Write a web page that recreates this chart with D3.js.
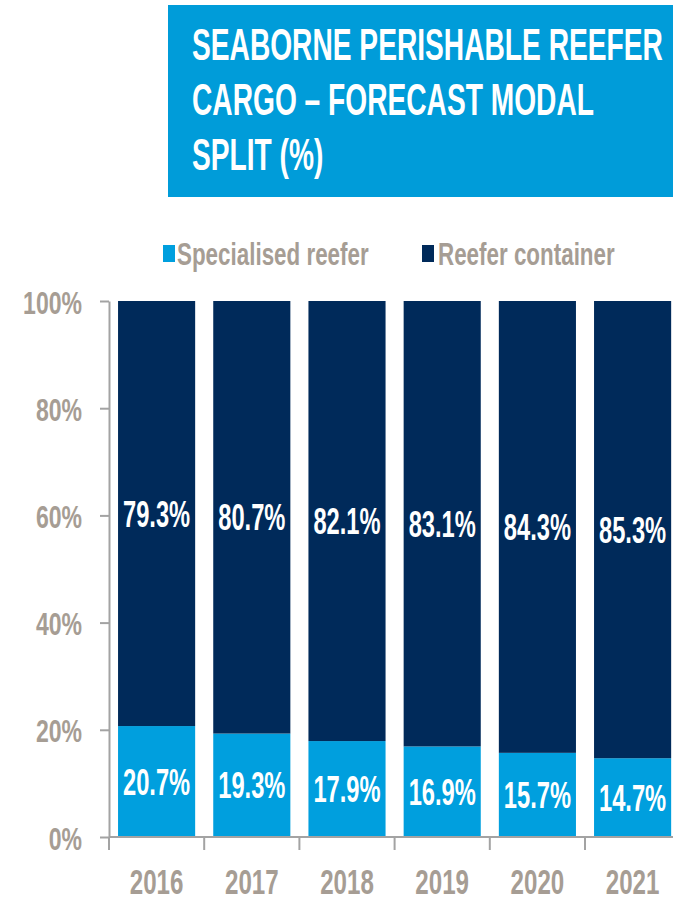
<!DOCTYPE html>
<html>
<head>
<meta charset="utf-8">
<script src="https://cdn.jsdelivr.net/npm/d3@7"></script>
<style>
  html, body { margin: 0; padding: 0; background: #fff; }
  svg { display: block; }
  text { font-family: "Liberation Sans", Arial, sans-serif; }
</style>
</head>
<body>
<div id="chart"></div>
<script>
// chart data
var years = ['2016', '2017', '2018', '2019', '2020', '2021'];
var specialised = [20.7, 19.3, 17.9, 16.9, 15.7, 14.7];
var container = [79.3, 80.7, 82.1, 83.1, 84.3, 85.3];
var yTicks = [0, 20, 40, 60, 80, 100];
var seriesNames = ['Specialised reefer', 'Reefer container'];
var titleLines = ['SEABORNE PERISHABLE REEFER', 'CARGO \u2013 FORECAST MODAL', 'SPLIT (%)'];

var W = 673, H = 901;
var lightBlue = '#009fde', navy = '#002a5a', titleBlue = '#009cd9';
var greyText = '#a69d94', axisGrey = '#a3a3a3';

var svg = d3.select('#chart').append('svg')
  .attr('width', W)
  .attr('height', H);

// squeezed text helper (source font is a bold condensed face)
function squeezeText(sel, x, y, sx) {
  return sel.attr('transform', 'translate(' + x + ',' + y + ') scale(' + sx + ',1)');
}

/* title box */
svg.append('rect')
  .attr('x', 168).attr('y', 5)
  .attr('width', W - 168).attr('height', 192)
  .style('fill', titleBlue);

titleLines.forEach(function(line, i){
  squeezeText(svg.append('text'), 192, 60 + i * 55, 0.63)
    .attr('font-size', 44.7)
    .attr('font-weight', 'bold')
    .style('fill', '#fff')
    .text(line);
});

/* legend */
var legendX = [163, 422], legendText = [177, 438];
seriesNames.forEach(function(name, i){
  svg.append('rect')
    .attr('x', legendX[i]).attr('y', 245)
    .attr('width', 12).attr('height', 17)
    .style('fill', i === 0 ? lightBlue : navy);
  squeezeText(svg.append('text'), legendText[i], 265, 0.70)
    .attr('font-size', 32)
    .attr('font-weight', 'bold')
    .style('fill', greyText)
    .text(name);
});

/* scales */
var axisX = 109;
var x = d3.scaleBand()
  .domain(years)
  .range([axisX, axisX + 6 * 95.2])
  .paddingInner(0.19)
  .paddingOuter(0.095);

var y = d3.scaleLinear()
  .domain([0, 100])
  .range([837, 301]);

/* bars */
var rows = years.map(function(yr, i){
  return { year: yr, spec: specialised[i], cont: container[i] };
});

var g = svg.append('g');

g.selectAll('rect.spec').data(rows).enter().append('rect')
  .attr('class', 'spec')
  .attr('x', function(d){ return x(d.year); })
  .attr('y', function(d){ return y(d.spec); })
  .attr('width', x.bandwidth())
  .attr('height', function(d){ return y(0) - y(d.spec); })
  .style('fill', lightBlue);

g.selectAll('rect.cont').data(rows).enter().append('rect')
  .attr('class', 'cont')
  .attr('x', function(d){ return x(d.year); })
  .attr('y', function(d){ return y(d.spec + d.cont); })
  .attr('width', x.bandwidth())
  .attr('height', function(d){ return y(d.spec) - y(d.spec + d.cont); })
  .style('fill', navy);

// value labels
rows.forEach(function(d){
  var cx = x(d.year) + x.bandwidth() / 2;
  [[d.spec, y(d.spec / 2)], [d.cont, y(d.spec + d.cont / 2)]].forEach(function(p){
    squeezeText(g.append('text'), cx, p[1] + 13, 0.64)
      .attr('font-size', 37)
      .attr('font-weight', 'bold')
      .attr('text-anchor', 'middle')
      .style('fill', '#fff')
      .text(p[0].toFixed(1) + '%');
  });
});

/* y axis */
var yAxis = svg.append('g')
  .attr('transform', 'translate(' + axisX + ',0)')
  .call(d3.axisLeft(y).tickValues(yTicks).tickSize(9).tickSizeOuter(0).tickFormat(function(d){ return d + '%'; }));

yAxis.select('.domain').attr('stroke', axisGrey).attr('stroke-width', 2);
yAxis.selectAll('.tick line').attr('stroke', axisGrey).attr('stroke-width', 2);
yAxis.selectAll('.tick text')
  .attr('x', null).attr('dy', null)
  .attr('transform', 'translate(-27,12) scale(0.72,1)')
  .attr('font-size', 32)
  .attr('font-weight', 'bold')
  .attr('font-family', '"Liberation Sans", Arial, sans-serif')
  .style('fill', greyText);

/* x axis */
var xAxis = svg.append('g').attr('transform', 'translate(0,' + y(0) + ')');
xAxis.append('line')
  .attr('x1', axisX).attr('x2', W)
  .attr('stroke', axisGrey).attr('stroke-width', 2);

xAxis.selectAll('line.tk').data(d3.range(years.length)).enter().append('line')
  .attr('class', 'tk')
  .attr('x1', function(i){ return axisX + i * x.step(); })
  .attr('x2', function(i){ return axisX + i * x.step(); })
  .attr('y1', 0).attr('y2', 13)
  .attr('stroke', axisGrey).attr('stroke-width', 2);

years.forEach(function(yr){
  squeezeText(xAxis.append('text'), x(yr) + x.bandwidth() / 2, 57, 0.69)
    .attr('font-size', 35)
    .attr('font-weight', 'bold')
    .attr('text-anchor', 'middle')
    .style('fill', greyText)
    .text(yr);
});
</script>
</body>
</html>
